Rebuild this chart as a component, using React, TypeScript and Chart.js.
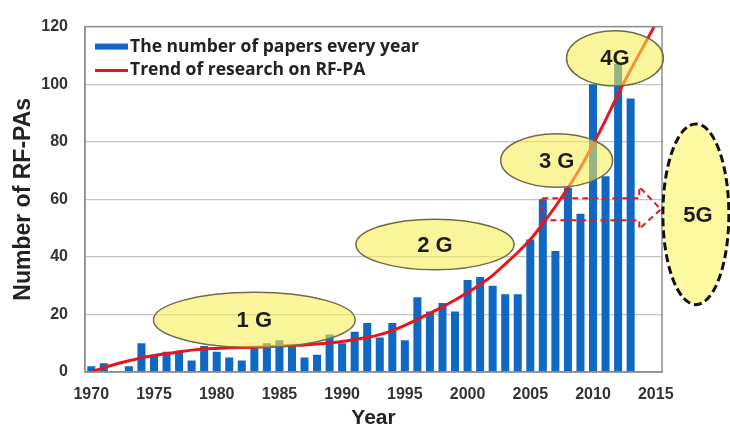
import React, { useEffect, useRef } from 'react';
import { Chart, registerables } from 'chart.js';

Chart.register(...registerables);

// ---------- data ----------
const years = [
  1970, 1971, 1972, 1973, 1974, 1975, 1976, 1977, 1978, 1979,
  1980, 1981, 1982, 1983, 1984, 1985, 1986, 1987, 1988, 1989,
  1990, 1991, 1992, 1993, 1994, 1995, 1996, 1997, 1998, 1999,
  2000, 2001, 2002, 2003, 2004, 2005, 2006, 2007, 2008, 2009,
  2010, 2011, 2012, 2013, 2014, 2015,
];
const tickYears = [1970, 1975, 1980, 1985, 1990, 1995, 2000, 2005, 2010, 2015];
const paperCounts = [
  2, 3, null, 2, 10, 6, 7, 7, 4, 9,
  7, 5, 4, 9, 10, 11, 9, 5, 6, 13,
  10, 14, 17, 12, 17, 11, 26, 21, 24, 21,
  32, 33, 30, 27, 27, 46, 60, 42, 64, 55,
  100, 68, 107, 95, null, null,
];
const trendValues = [
  0, 1.5, 2.8, 3.9, 4.9, 5.7, 6.4, 7.0, 7.6, 8.0,
  8.2, 8.4, 8.5, 8.6, 8.8, 9.0, 9.2, 9.4, 9.7, 10.1,
  10.6, 11.3, 12.0, 13.0, 14.4, 16.2, 18.3, 20.4, 22.6, 25.0,
  27.6, 30.4, 33.6, 37.5, 41.5, 46, 51.5, 57.5, 64, 71,
  79, 87.5, 96.5, 105, 113, 121,
];
const yTickValues = [0, 20, 40, 60, 80, 100, 120];
const seriesNames = ['The number of papers every year', 'Trend of research on RF-PA'];

// generation bubbles: label, centre year, centre value, half-width (years), half-height (value)
const eraLabels = ['1 G', '2 G', '3 G', '4G'];
const eraYears = [1983.0, 1997.4, 2007.1, 2011.75];
const eraValues = [18.1, 44.3, 73.5, 109];
const eraHalfYears = [8.04, 6.3, 4.46, 3.86];
const eraHalfValues = [9.6, 8.8, 9.3, 9.6];

const futureLabel = '5G';
const futureYear = 2018.2;
const futureValue = 54.8;
const futureHalfYears = 2.63;
const futureHalfValue = 31.4;

// dashed arrow outline (year, value)
const arrowYears = [2005.96, 2013.69, 2013.69, 2015.41, 2013.69, 2013.69, 2005.96];
const arrowValues = [60.4, 60.4, 64.3, 56.5, 49.7, 52.7, 52.7];

const BLUE = '#0f68c4';
const RED = '#e8161c';
const FONT = '"Liberation Sans", Arial, sans-serif';

const overlayPlugin = {
  id: 'overlay',
  afterDatasetsDraw(chart: any) {
    const { ctx, chartArea } = chart;
    const xs = chart.scales.x;
    const ys = chart.scales.y;
    const px = (yr: number) => xs.getPixelForValue(yr - years[0]);
    const py = (v: number) => ys.getPixelForValue(v);

    // frame
    ctx.save();
    ctx.strokeStyle = '#8f8f8f';
    ctx.lineWidth = 1.5;
    ctx.strokeRect(chartArea.left, chartArea.top, chartArea.right - chartArea.left, chartArea.bottom - chartArea.top);
    ctx.restore();

    // generation ellipses
    eraLabels.forEach((lab, i) => {
      const cx = px(eraYears[i]);
      const cy = py(eraValues[i]);
      const rx = px(eraYears[i] + eraHalfYears[i]) - cx;
      const ry = cy - py(eraValues[i] + eraHalfValues[i]);
      ctx.save();
      ctx.beginPath();
      ctx.ellipse(cx, cy, rx, ry, 0, 0, Math.PI * 2);
      ctx.fillStyle = 'rgba(246, 237, 82, 0.58)';
      ctx.fill();
      ctx.strokeStyle = '#6f6c48';
      ctx.lineWidth = 1.5;
      ctx.stroke();
      ctx.fillStyle = '#1c1c1c';
      ctx.font = `bold 22px ${FONT}`;
      ctx.textAlign = 'center';
      ctx.textBaseline = 'middle';
      ctx.fillText(lab, cx, cy + 1);
      ctx.restore();
    });

    // dashed arrow
    ctx.save();
    ctx.beginPath();
    arrowYears.forEach((yr, i) => {
      const x = px(yr);
      const y = py(arrowValues[i]);
      if (i === 0) ctx.moveTo(x, y);
      else ctx.lineTo(x, y);
    });
    ctx.closePath();
    ctx.setLineDash([6, 4]);
    ctx.strokeStyle = RED;
    ctx.lineWidth = 2;
    ctx.stroke();
    ctx.restore();

    // 5G ellipse
    {
      const cx = px(futureYear);
      const cy = py(futureValue);
      const rx = px(futureYear + futureHalfYears) - cx;
      const ry = cy - py(futureValue + futureHalfValue);
      ctx.save();
      ctx.beginPath();
      ctx.ellipse(cx, cy, rx, ry, 0, 0, Math.PI * 2);
      ctx.fillStyle = '#fdf9a0';
      ctx.fill();
      ctx.setLineDash([8, 4]);
      ctx.strokeStyle = '#111111';
      ctx.lineWidth = 3;
      ctx.stroke();
      ctx.setLineDash([]);
      ctx.fillStyle = '#1c1c1c';
      ctx.font = `bold 22px ${FONT}`;
      ctx.textAlign = 'center';
      ctx.textBaseline = 'middle';
      ctx.fillText(futureLabel, cx + 2, cy + 2);
      ctx.restore();
    }

    // legend
    ctx.save();
    const lx = chartArea.left + 10;
    const ly1 = chartArea.top + 20;
    const ly2 = chartArea.top + 43;
    ctx.fillStyle = BLUE;
    ctx.fillRect(lx, ly1 - 3, 33, 6);
    ctx.strokeStyle = RED;
    ctx.lineWidth = 3;
    ctx.beginPath();
    ctx.moveTo(lx, ly2 + 1);
    ctx.lineTo(lx + 33, ly2 + 1);
    ctx.stroke();
    ctx.fillStyle = '#222222';
    ctx.font = `bold 17.5px "Open Sans", sans-serif`;
    ctx.textAlign = 'left';
    ctx.textBaseline = 'middle';
    ctx.fillText(seriesNames[0], lx + 35, ly1);
    ctx.fillText(seriesNames[1], lx + 35, ly2);
    ctx.restore();
  },
};

export default function App() {
  const canvasRef = useRef<HTMLCanvasElement | null>(null);

  useEffect(() => {
    document.body.style.margin = '0';
    const canvas = canvasRef.current;
    if (!canvas) return;
    const chart = new Chart(canvas, {
      type: 'bar',
      data: {
        labels: years.map(String),
        datasets: [
          {
            type: 'line',
            label: seriesNames[1],
            data: trendValues,
            borderColor: RED,
            borderWidth: 3,
            pointRadius: 0,
            fill: false,
            cubicInterpolationMode: 'monotone',
            order: 0,
          } as any,
          {
            type: 'bar',
            label: seriesNames[0],
            data: paperCounts,
            backgroundColor: BLUE,
            borderWidth: 0,
            barPercentage: 0.8,
            categoryPercentage: 0.8,
            order: 1,
          } as any,
        ],
      },
      options: {
        animation: false,
        responsive: true,
        maintainAspectRatio: false,
        layout: { padding: { left: 0, right: 68, top: 17, bottom: 0 } },
        plugins: {
          legend: { display: false },
          tooltip: { enabled: false },
        },
        scales: {
          x: {
            type: 'category',
            offset: true,
            grid: { display: false, drawTicks: false },
            border: { display: true, color: '#8f8f8f', width: 1.5 },
            ticks: {
              autoSkip: false,
              maxRotation: 0,
              padding: 13,
              color: '#333333',
              font: { family: FONT, size: 16, weight: 'bold' },
              callback: (_v: any, i: number) => (tickYears.includes(years[i]) ? String(years[i]) : ''),
            },
            title: {
              display: true,
              text: 'Year',
              color: '#222222',
              font: { family: FONT, size: 21, weight: 'bold' },
              padding: { top: 0, bottom: 0 },
            },
            afterFit: (s: any) => {
              s.height = 59;
            },
          },
          y: {
            min: 0,
            max: 120,
            grid: { color: '#c4c4c4', lineWidth: 1.2, drawTicks: false },
            border: { display: true, color: '#8f8f8f', width: 1.5 },
            afterBuildTicks: (s: any) => {
              s.ticks = yTickValues.map((v) => ({ value: v }));
            },
            ticks: {
              padding: 17,
              color: '#333333',
              font: { family: FONT, size: 16, weight: 'bold' },
            },
            title: {
              display: true,
              text: 'Number of RF-PAs',
              color: '#222222',
              font: { family: FONT, size: 23, weight: 'bold' },
              padding: { top: 10, bottom: 0 },
            },
            afterFit: (s: any) => {
              s.width = 85;
            },
          },
        },
      } as any,
      plugins: [overlayPlugin],
    });
    return () => chart.destroy();
  }, []);

  return (
    <div style={{ position: 'relative', width: 730, height: 431, background: '#ffffff' }}>
      <canvas ref={canvasRef} />
    </div>
  );
}
